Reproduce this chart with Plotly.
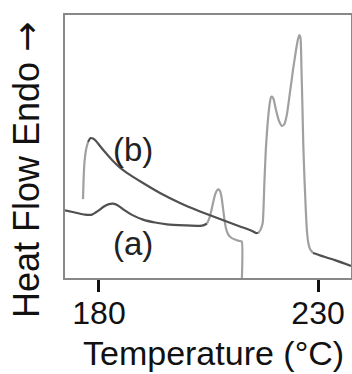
import plotly.graph_objects as go

# Curve (a): temperature (°C) and heat flow (arbitrary units, endo up)
temp_a = [172.24, 174.52, 176.80, 178.40, 179.77, 181.14, 182.28, 183.20, 184.34, 185.71,
          187.53, 190.05, 192.79, 195.53, 199.63, 203.06, 203.97, 204.66, 205.11, 205.57,
          206.03, 206.48, 206.94, 207.28, 207.63, 207.97, 208.31, 208.65, 209.00, 209.45,
          210.14, 211.05, 211.96, 212.58, 212.58]
heat_a = [2.57, 2.49, 2.41, 2.41, 2.55, 2.72, 2.81, 2.83, 2.76, 2.59,
          2.40, 2.22, 2.11, 2.04, 2.00, 1.98, 2.01, 2.07, 2.24, 2.51,
          2.85, 3.16, 3.33, 3.37, 3.31, 3.08, 2.66, 2.21, 1.88, 1.67,
          1.54, 1.46, 1.41, 1.39, -0.2]

# Curve (b)
temp_b = [176.35, 176.48, 176.69, 177.03, 177.49, 178.06, 178.63, 179.32, 180.23, 181.37,
          182.97, 184.79, 187.08, 190.05, 193.93, 198.49, 203.06, 207.63, 212.19, 214.93,
          215.84, 216.42, 216.87, 217.37, 217.74, 218.08, 218.47, 218.93, 219.27, 219.50,
          219.84, 220.41, 221.10, 221.78, 222.35, 222.92, 223.61, 224.29, 224.98, 225.43,
          225.73, 226.00, 226.23, 226.46, 226.64, 226.92, 227.21, 227.49, 227.79, 228.17,
          228.86, 230.46, 233.88, 237.53]
heat_b = [3.00, 3.73, 4.41, 4.87, 5.17, 5.32, 5.30, 5.21, 5.02, 4.79,
          4.49, 4.20, 3.92, 3.61, 3.23, 2.85, 2.53, 2.24, 1.96, 1.79,
          1.71, 1.72, 1.83, 2.09, 3.54, 4.87, 5.82, 6.58, 6.88, 6.90,
          6.81, 6.39, 5.97, 5.78, 5.86, 6.24, 7.07, 7.91, 8.67, 9.09,
          9.24, 9.13, 7.91, 6.39, 5.06, 3.73, 2.59, 1.75, 1.33, 1.10,
          0.95, 0.86, 0.68, 0.46]

x_ticks = [180, 230]
curve_labels = ["(a)", "(b)"]

DARK = "#505050"
LIGHT = "#a0a0a0"

fig = go.Figure()

def add_segments(tx, hy, bounds):
    # bounds: list of (tmin, tmax, color)
    for lo, hi, col in bounds:
        xs = [t for t in tx if lo <= t <= hi]
        ys = [h for t, h in zip(tx, hy) if lo <= t <= hi]
        fig.add_trace(go.Scatter(x=xs, y=ys, mode="lines",
                                 line=dict(color=col, width=2.2, shape="spline", smoothing=0.5),
                                 showlegend=False, hoverinfo="skip"))

add_segments(temp_a, heat_a, [(170, 204.66, DARK), (204.66, 213, LIGHT)])
add_segments(temp_b, heat_b, [(176, 177.49, LIGHT), (177.49, 216.42, DARK),
                              (216.42, 228.86, LIGHT), (228.86, 238, DARK)])

fig.add_annotation(x=187.76, y=4.87, text=curve_labels[1], showarrow=False,
                   xanchor="center", yanchor="middle",
                   font=dict(size=33, color="#222"))
fig.add_annotation(x=187.76, y=1.33, text=curve_labels[0], showarrow=False,
                   xanchor="center", yanchor="middle",
                   font=dict(size=33, color="#222"))

fig.add_annotation(xref="paper", yref="paper", x=-0.137, y=0.41,
                   xanchor="center", yanchor="middle",
                   text="Heat Flow Endo <span style='font-family:DejaVu Sans'>\u2192</span>",
                   textangle=-90, showarrow=False,
                   font=dict(size=36, color="#111"))
fig.add_annotation(xref="paper", yref="paper", x=0.519, y=-0.285,
                   xanchor="center", yanchor="middle",
                   text="Temperature (\u00b0C)", showarrow=False,
                   font=dict(size=34, color="#111"))

fig.update_xaxes(range=[172.24, 237.53], tickvals=x_ticks, ticks="outside", ticklen=12,
                 tickwidth=3, tickcolor="#111", showgrid=False, zeroline=False,
                 showline=True, mirror=True, linecolor="#888", linewidth=2,
                 automargin=False, ticklabelstandoff=-6,
                 tickfont=dict(size=32, color="#111"))
fig.update_yaxes(range=[0, 10], showticklabels=False, ticks="", showgrid=False,
                 zeroline=False, showline=True, mirror=True, linecolor="#888", linewidth=2,
                 automargin=False)

fig.update_layout(template="none", width=352, height=374, autosize=False,
                  margin=dict(l=65, r=1, t=15, b=96, pad=0),
                  plot_bgcolor="white", paper_bgcolor="white",
                  font=dict(family="Liberation Sans, Arial, sans-serif"))

fig.write_html("out.html", config={"displayModeBar": False},
               post_script="document.body.style.margin='0';")
